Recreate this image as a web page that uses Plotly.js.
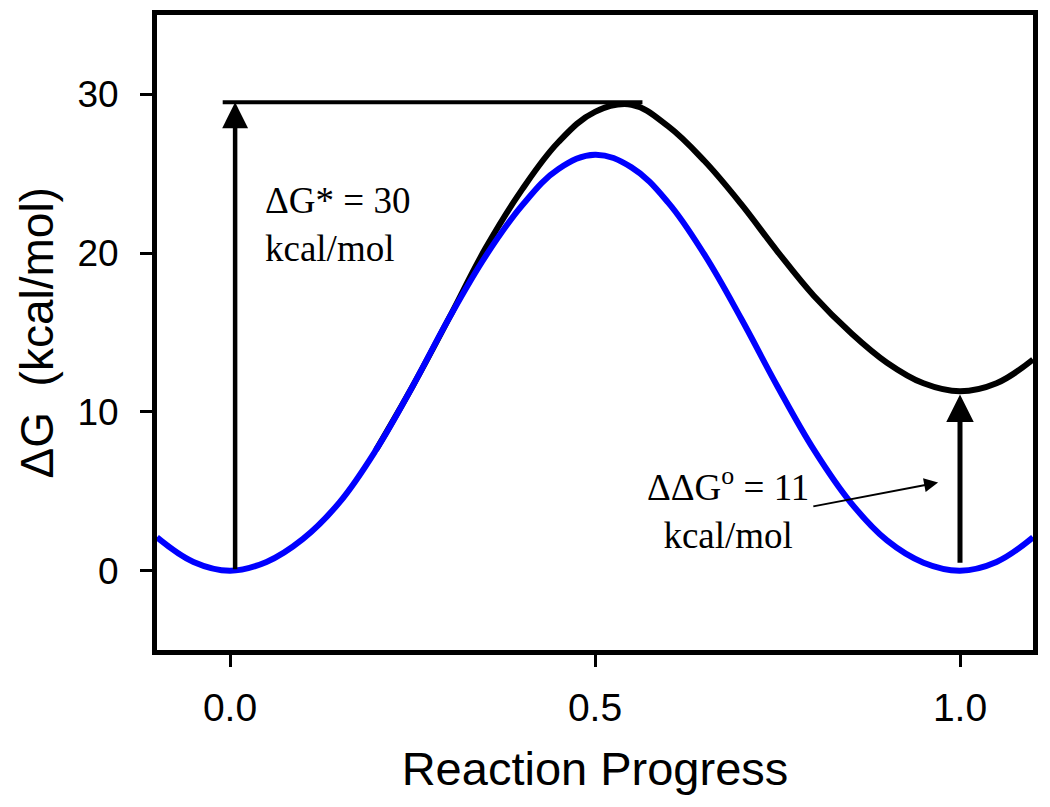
<!DOCTYPE html>
<html>
<head>
<meta charset="utf-8">
<script src="https://cdn.plot.ly/plotly-3.0.1.min.js"></script>
<style>
  html, body { margin: 0; padding: 0; background: #fff; }
  #plot { width: 1050px; height: 807px; }
</style>
</head>
<body>
<div id="plot"></div>
<script>
// reaction coordinate
var progress = [-0.1, -0.05, 0, 0.05, 0.1, 0.15, 0.2, 0.25, 0.3, 0.35, 0.4, 0.45, 0.5,
                0.55, 0.6, 0.65, 0.7, 0.75, 0.8, 0.85, 0.9, 0.95, 1.0, 1.05, 1.1];
// symmetric profile (blue)
var gSymmetric = [2.1, 0.55, 0, 0.55, 2.0, 4.3, 7.6, 11.6, 15.9, 19.8, 23.0, 25.3, 26.2,
                  25.4, 23.2, 19.9, 15.9, 11.6, 7.6, 4.3, 1.9, 0.5, 0, 0.55, 2.1];

// asymmetric profile (black), hidden under blue below x = 0.3
var progressB = [0.2, 0.25, 0.3, 0.35, 0.4, 0.45, 0.5, 0.55, 0.6, 0.65, 0.7, 0.75,
                 0.8, 0.85, 0.9, 0.95, 1.0, 1.05, 1.1];
var gAsymmetric = [7.6, 11.6, 15.9, 20.3, 24.0, 27.0, 28.9, 29.35, 28.0, 25.8, 23.1, 20.1,
                   17.3, 15.0, 13.1, 11.8, 11.3, 11.8, 13.3];

var xTicks = [0, 0.5, 1.0];
var xTickText = ['0.0', '0.5', '1.0'];
var yTicks = [0, 10, 20, 30];

var barrierTop = Math.max.apply(null, gAsymmetric);
var productLevel = gAsymmetric[progressB.indexOf(1.0)];

var sans = 'Liberation Sans, Arial, sans-serif';
var serif = 'Liberation Serif, Times New Roman, serif';

var traceBlack = {
    x: progressB,
    y: gAsymmetric,
    mode: 'lines',
    line: {shape: 'spline', smoothing: 1.1, color: '#000000', width: 6},
    type: 'scatter'
};

var traceBlue = {
    x: progress,
    y: gSymmetric,
    mode: 'lines',
    line: {shape: 'spline', smoothing: 1.1, color: '#0000ff', width: 6},
    type: 'scatter'
};

var layout = {
    width: 1050,
    height: 807,
    showlegend: false,
    paper_bgcolor: '#ffffff',
    plot_bgcolor: '#ffffff',
    margin: {l: 157, r: 17, t: 15, b: 157},
    xaxis: {
        range: [-0.1, 1.1],
        tickvals: xTicks,
        ticktext: xTickText,
        ticks: 'outside',
        ticklen: 12,
        tickwidth: 3,
        tickcolor: '#000',
        ticklabelstandoff: 7,
        showline: true,
        linewidth: 5,
        linecolor: '#000',
        mirror: true,
        showgrid: false,
        zeroline: false,
        tickfont: {family: sans, size: 39, color: '#000'},
        title: {text: 'Reaction Progress', font: {family: sans, size: 47, color: '#000'}, standoff: 26}
    },
    yaxis: {
        range: [-5, 35],
        tickvals: yTicks,
        ticks: 'outside',
        ticklen: 12,
        tickwidth: 3,
        tickcolor: '#000',
        ticklabelstandoff: 14,
        showline: true,
        linewidth: 5,
        linecolor: '#000',
        mirror: true,
        showgrid: false,
        zeroline: false,
        tickfont: {family: sans, size: 37, color: '#000'}
    },
    shapes: [
        {type: 'line', xref: 'x', yref: 'y', x0: -0.01, x1: 0.565,
         y0: barrierTop + 0.15, y1: barrierTop + 0.15, line: {color: '#000', width: 4}}
    ],
    annotations: [
        // y title as an annotation so it can sit at the left edge
        {xref: 'paper', yref: 'paper', x: -0.137, y: 0.5, xanchor: 'center', yanchor: 'middle',
         text: '\u0394G\u00a0\u00a0(kcal/mol)', textangle: -90, showarrow: false,
         font: {family: sans, size: 46, color: '#000'}},
        // barrier arrow
        {xref: 'x', yref: 'y', axref: 'x', ayref: 'y', x: 0.007, y: barrierTop + 0.15, ax: 0.007, ay: 0,
         text: '', showarrow: true, arrowhead: 2, arrowwidth: 4.5, arrowsize: 1.15, arrowcolor: '#000'},
        // reaction free energy arrow
        {xref: 'x', yref: 'y', axref: 'x', ayref: 'y', x: 1.0, y: productLevel - 0.2, ax: 1.0, ay: 0.4,
         text: '', showarrow: true, arrowhead: 2, arrowwidth: 5, arrowsize: 1.1, arrowcolor: '#000'},
        // pointer from the label
        {xref: 'x', yref: 'y', axref: 'x', ayref: 'y', x: 0.97, y: 5.55, ax: 0.797, ay: 4.03,
         text: '', showarrow: true, arrowhead: 2, arrowwidth: 2, arrowsize: 1.4, arrowcolor: '#000'},
        {xref: 'x', yref: 'y', x: 0.045, y: 21.8, xanchor: 'left', yanchor: 'middle', align: 'left',
         text: '\u0394G* = 30<br>kcal/mol', showarrow: false,
         font: {family: serif, size: 37, color: '#000'}},
        {xref: 'x', yref: 'y', x: 0.682, y: 3.9, xanchor: 'center', yanchor: 'middle', align: 'center',
         text: '\u0394\u0394G<sup>o</sup> = 11<br>kcal/mol', showarrow: false,
         font: {family: serif, size: 37, color: '#000'}}
    ]
};

Plotly.newPlot('plot', [traceBlack, traceBlue], layout, {staticPlot: true});
</script>
</body>
</html>
